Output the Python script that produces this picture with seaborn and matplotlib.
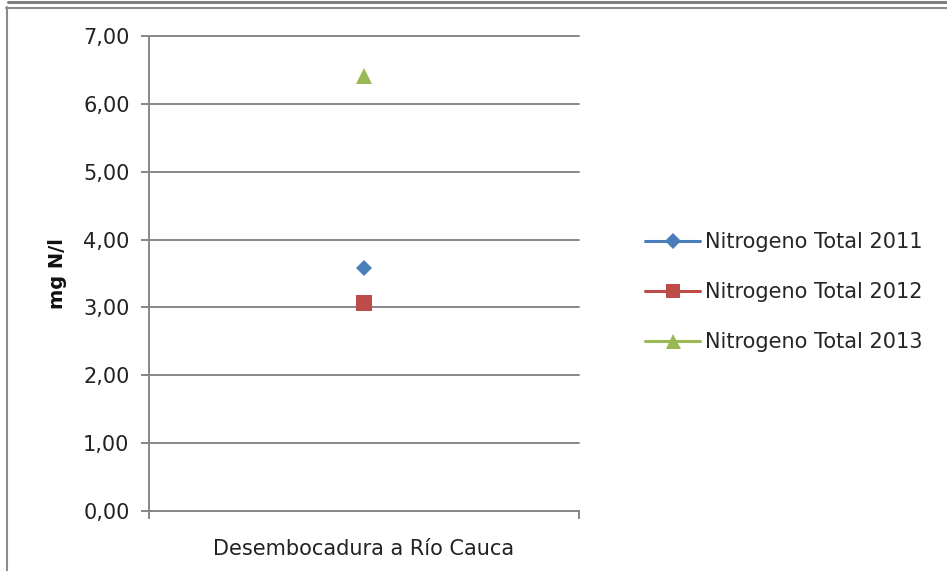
import matplotlib
matplotlib.use('Agg')
import matplotlib.pyplot as plt
import seaborn as sns
import pandas as pd
from matplotlib.ticker import FixedLocator, FuncFormatter
from matplotlib.lines import Line2D

# data
sitios = ['Desembocadura a Río Cauca']
series = ['Nitrogeno Total 2011', 'Nitrogeno Total 2012', 'Nitrogeno Total 2013']
valores_2011 = [3.58]
valores_2012 = [3.06]
valores_2013 = [6.41]

colores = ['#4A7EBB', '#BE4B48', '#98B954']
marcadores = ['D', 's', '^']
tamanos = [8.5, 11, 12]

df = pd.DataFrame({
    'sitio': sitios * 3,
    'serie': [series[0]] * len(valores_2011) + [series[1]] * len(valores_2012) + [series[2]] * len(valores_2013),
    'valor': valores_2011 + valores_2012 + valores_2013,
})

sns.set_style('white')
plt.rcParams['font.family'] = ['DejaVu Sans']
gris = '#878787'

fig = plt.figure(figsize=(9.47, 5.71), dpi=100)
ax = fig.add_axes([149 / 947, 1 - 511 / 571, 430 / 947, 475 / 571])

for serie, color, marker, ms in zip(series, colores, marcadores, tamanos):
    sub = df[df['serie'] == serie]
    sns.lineplot(data=sub, x='sitio', y='valor', ax=ax, color=color, marker=marker,
                 markersize=ms, markeredgewidth=0, linewidth=0, label=serie, legend=False)

ax.set_xlim(-0.5, 0.5)
ax.set_ylim(0, 7)
ax.yaxis.set_major_locator(FixedLocator(range(0, 8)))
ax.yaxis.set_major_formatter(FuncFormatter(lambda v, p: f'{v:.2f}'.replace('.', ',')))
ax.grid(axis='y', color=gris, linewidth=1.4)
ax.set_axisbelow(True)
for gl in ax.get_ygridlines():
    gl.set_clip_on(False)

ax.set_xticks([0])
ax.set_xticklabels(sitios)
ax.xaxis.set_minor_locator(FixedLocator([-0.5, 0.5]))
ax.tick_params(axis='x', which='major', length=0, pad=20, labelsize=15, labelcolor='#222222')
ax.tick_params(axis='x', which='minor', length=6, width=1.4, color=gris, direction='out', bottom=True)
ax.tick_params(axis='y', which='major', length=6, width=1.4, color=gris, direction='out', left=True,
               labelsize=15, labelcolor='#222222', pad=8)
ax.set_xlabel('')
ax.set_ylabel('mg N/l', fontsize=14, fontweight='bold', color='#111111')
ax.yaxis.set_label_coords(-0.19, 0.5)

for s in ['top', 'right']:
    ax.spines[s].set_visible(False)
for s in ['left', 'bottom']:
    ax.spines[s].set_color(gris)
    ax.spines[s].set_linewidth(1.4)

handles = [Line2D([0], [0], color=c, marker=m, markersize=ms * 0.9, markeredgewidth=0, linewidth=2.2)
           for c, m, ms in zip(colores, marcadores, tamanos)]
fig.legend(handles, series, loc='center left', bbox_to_anchor=(645 / 947, 1 - 292 / 571),
           frameon=False, fontsize=15, handlelength=2.65, handletextpad=0.25, labelspacing=1.45,
           borderpad=0, borderaxespad=0)

# outer chart frame
fig.add_artist(Line2D([8 / 947, 1], [1 - 1.5 / 571] * 2, color='#7f7f7f', linewidth=2.2))
fig.add_artist(Line2D([6 / 947, 1], [1 - 7.5 / 571] * 2, color='#8c8c8c', linewidth=1.5))
fig.add_artist(Line2D([7 / 947] * 2, [0, 1 - 7 / 571], color='#8c8c8c', linewidth=1.5))

fig.savefig('out.png', dpi=100)
